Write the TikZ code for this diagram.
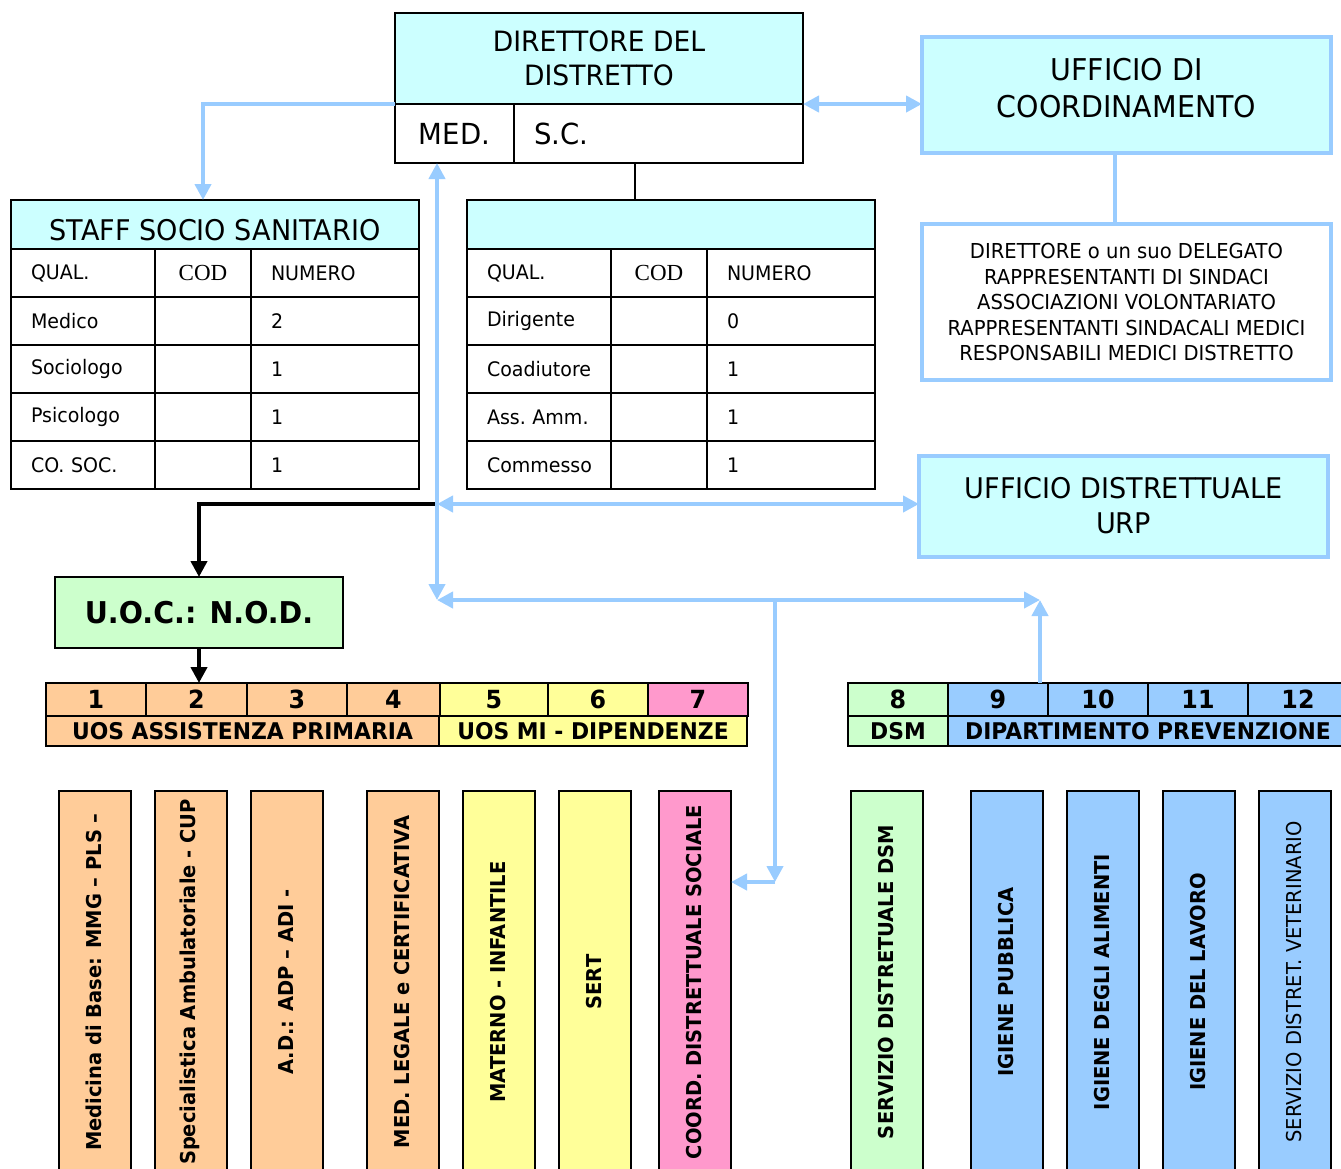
\documentclass[tikz,border=0pt]{standalone}
\usepackage{fontspec}
\setmainfont{DejaVu Sans}[FakeStretch=0.95]
\newfontfamily\codfont{Liberation Serif}
\usetikzlibrary{arrows.meta}
\definecolor{cy}{HTML}{CCFFFF}
\definecolor{lb}{HTML}{99CCFF}
\definecolor{gr}{HTML}{CCFFCC}
\definecolor{og}{HTML}{FFCC99}
\definecolor{yl}{HTML}{FFFF99}
\definecolor{pk}{HTML}{FF99CC}
\definecolor{bl}{HTML}{99CCFF}
\newcommand\fsz[2]{\fontsize{#1}{#2}\selectfont}
\begin{document}
\begin{tikzpicture}[x=1pt,y=-1pt,
 cell/.style={draw, line width=1.6pt, inner sep=0pt, outer sep=0pt, anchor=north west, font=\fsz{20}{24}},
 lc/.style={cell, inner xsep=20pt, text width=#1, align=left},
 cod/.style={cell, font=\codfont\fsz{23}{26}},
 bbox/.style={draw=lb, line width=3.5pt, fill=cy, inner sep=0pt, outer sep=0pt, anchor=north west, align=center},
 la/.style={draw=lb, line width=4pt, -{Triangle[length=16pt,width=16pt]}},
 lab/.style={draw=lb, line width=4pt, {Triangle[length=16pt,width=16pt]}-{Triangle[length=16pt,width=16pt]}},
 lline/.style={draw=lb, line width=4pt},
 ka/.style={draw=black, line width=4.5pt, -{Triangle[length=16pt,width=16pt]}},
 nc/.style={draw, line width=2pt, inner sep=0pt, outer sep=0pt, anchor=north west, font=\bfseries\fsz{25}{30}},
 vb/.style={draw, line width=2pt, inner sep=0pt, outer sep=0pt, anchor=north west, minimum width=72pt, minimum height=420pt},
 vt/.style={rotate=90, font=\bfseries\fsz{20.5}{24}, inner sep=0pt},
]
\useasboundingbox (0,0) rectangle (1341,1168);
\clip (0,0) rectangle (1341,1168);
\fill[white] (0,0) rectangle (1341,1168);

% Director
\node[cell, fill=cy, minimum width=408pt, minimum height=91pt, align=center, font=\fsz{28}{34}] (dirtop) at (395,13) {DIRETTORE DEL\\DISTRETTO};
\node[cell, minimum width=119pt, minimum height=59pt, font=\fsz{29}{34}] (med) at (395,104) {MED.};
\node[cell, minimum width=289pt, minimum height=59pt, font=\fsz{29}{34}, inner xsep=20pt, text width=249pt, align=left] (sc) at (514,104) {S.C.};

% Right boxes
\node[bbox, minimum width=409pt, minimum height=116pt, font=\fsz{30}{37}, text depth=14pt] (coord) at (922,37) {UFFICIO DI\\COORDINAMENTO};
\node[bbox, fill=white, minimum width=409pt, minimum height=156pt, font=\fsz{20.6}{25.5}] (memb) at (922,224) {DIRETTORE o un suo DELEGATO\\RAPPRESENTANTI DI SINDACI\\ASSOCIAZIONI VOLONTARIATO\\RAPPRESENTANTI SINDACALI MEDICI\\RESPONSABILI MEDICI DISTRETTO};
\node[bbox, minimum width=409pt, minimum height=101pt, font=\fsz{28.5}{35}, text depth=3pt] (urp) at (919,456) {UFFICIO DISTRETTUALE\\URP};

% Staff table
\node[cell, fill=cy, minimum width=408pt, minimum height=49pt, font=\fsz{28.5}{34}, text height=31pt, text depth=0pt] (stitle) at (11,200) {STAFF SOCIO SANITARIO};
\node[lc=104pt, minimum width=144pt, minimum height=48pt] (sh1) at (11,249) {QUAL.};
\node[cod, minimum width=96pt, minimum height=48pt] (sh2) at (155,249) {COD};
\node[lc=128pt, minimum width=168pt, minimum height=48pt] (sh3) at (251,249) {NUMERO};
\foreach \a/\b [count=\i] in {Medico/2, Sociologo/1, Psicologo/1, CO.~SOC./1}{
  \node[lc=104pt, minimum width=144pt, minimum height=48pt] (sa\i) at (11,{297+48*(\i-1)}) {\a};
  \node[cell, minimum width=96pt, minimum height=48pt] (sb\i) at (155,{297+48*(\i-1)}) {};
  \node[lc=128pt, minimum width=168pt, minimum height=48pt] (sc\i) at (251,{297+48*(\i-1)}) {\b};
}

% Second table
\node[cell, fill=cy, minimum width=408pt, minimum height=49pt] (t2title) at (467,200) {};
\node[lc=104pt, minimum width=144pt, minimum height=48pt] (th1) at (467,249) {QUAL.};
\node[cod, minimum width=96pt, minimum height=48pt] (th2) at (611,249) {COD};
\node[lc=128pt, minimum width=168pt, minimum height=48pt] (th3) at (707,249) {NUMERO};
\foreach \a/\b [count=\i] in {Dirigente/0, Coadiutore/1, Ass.~Amm./1, Commesso/1}{
  \node[lc=104pt, minimum width=144pt, minimum height=48pt] (ta\i) at (467,{297+48*(\i-1)}) {\a};
  \node[cell, minimum width=96pt, minimum height=48pt] (tb\i) at (611,{297+48*(\i-1)}) {};
  \node[lc=128pt, minimum width=168pt, minimum height=48pt] (tc\i) at (707,{297+48*(\i-1)}) {\b};
}

% UOC
\node[cell, line width=2pt, fill=gr, minimum width=288pt, minimum height=71pt, font=\bfseries\fsz{30}{36}] (uoc) at (55,577) {U.O.C.: N.O.D.};

% Number rows
\foreach \n/\x/\w/\c in {1/46/100/og, 2/146/101/og, 3/247/100/og, 4/347/93/og, 5/440/108/yl, 6/548/100/yl, 7/648/100/pk, 8/848/100/gr, 9/948/100/bl, 10/1048/100/bl, 11/1148/100/bl, 12/1248/100/bl}
  \node[nc, fill=\c, minimum width=\w, minimum height=33pt] (n\n) at (\x,683) {\n};
\node[nc, fill=og, minimum width=393pt, minimum height=30pt, font=\bfseries\fsz{23}{28}] (uosap) at (46,716) {UOS ASSISTENZA PRIMARIA};
\node[nc, fill=yl, minimum width=308pt, minimum height=30pt, font=\bfseries\fsz{23}{28}] (uosmi) at (439,716) {UOS MI - DIPENDENZE};
\node[nc, fill=gr, minimum width=100pt, minimum height=30pt, font=\bfseries\fsz{23}{28}] (dsm) at (848,716) {DSM};
\node[nc, fill=bl, minimum width=400pt, minimum height=30pt, font=\bfseries\fsz{23}{28}] (dip) at (948,716) {DIPARTIMENTO PREVENZIONE};

% Vertical boxes
\foreach \n/\x/\c/\t in {1/59/og/{Medicina di Base: MMG – PLS –}, 2/155/og/{Specialistica Ambulatoriale - CUP}, 3/251/og/{A.D.: ADP – ADI -}, 4/367/og/{MED. LEGALE e CERTIFICATIVA}, 5/463/yl/{MATERNO - INFANTILE}, 6/559/yl/{SERT}, 7/659/pk/{COORD. DISTRETTUALE SOCIALE}, 8/851/gr/{SERVIZIO DISTRETUALE DSM}, 9/971/bl/{IGIENE PUBBLICA}, 10/1067/bl/{IGIENE DEGLI ALIMENTI}, 11/1163/bl/{IGIENE DEL LAVORO}}{
  \node[vb, fill=\c] (v\n) at (\x,791) {};
  \node[vt] (vt\n) at (\x+35,982) {\t};
}
\node[vb, fill=bl] (v12) at (1259,791) {};
\node[vt, font=\fsz{20.5}{24}] (vt12) at (1294,982) {SERVIZIO DISTRET. VETERINARIO};

% Connectors
\coordinate (j1) at (437,504);
\coordinate (j2) at (437,600);
\coordinate (j3) at (1040,600);
\coordinate (j4) at (775,600);
\coordinate (j5) at (775,882);

\draw[ka] (j1) -| (uoc.north);
\draw[ka] (uoc.south) -- (uoc.south |- n2.north);
\draw[line width=2pt] ([xshift=-36pt]t2title.north) -- ([xshift=-36pt]t2title.north |- sc.south);
\draw[la] (dirtop.south west) -| ([xshift=-12pt]stitle.north);
\draw[lab] (dirtop.south east) -- (dirtop.south east -| coord.west);
\draw[lline] ([xshift=-11.5pt]coord.south) -- ([xshift=-11.5pt]coord.south |- memb.north);
\draw[lab] (j2) -- (j2 |- med.south);
\draw[lab] (j1) -- (j1 -| urp.west);
\draw[lab] (j2) -- (j3);
\draw[la] (n9.north -| j3) -- (j3);
\draw[la] (j4) -- (j5);
\draw[la] (j5) -- (j5 -| v7.east);
\end{tikzpicture}
\end{document}
